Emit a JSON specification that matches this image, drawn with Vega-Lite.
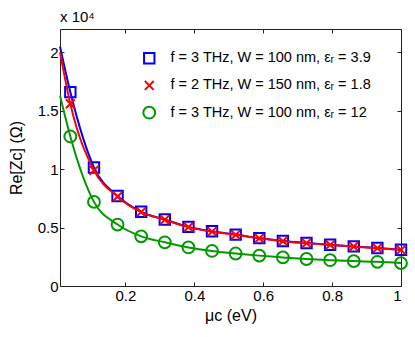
{
  "$schema": "https://vega.github.io/schema/vega-lite/v6.json",
  "width": 341,
  "height": 257,
  "autosize": {"type": "none"},
  "padding": {"left": 60, "top": 29, "right": 14, "bottom": 51},
  "background": "white",
  "config": {
    "font": "Liberation Sans",
    "view": {"stroke": "#222", "strokeWidth": 1},
    "axis": {
      "domain": false,
      "grid": false,
      "tickColor": "#222",
      "tickSize": -4,
      "labelFont": "Liberation Sans",
      "labelFontSize": 15,
      "labelColor": "#000",
      "titleFont": "Liberation Sans",
      "titleFontSize": 16,
      "titleFontWeight": "normal",
      "titleColor": "#000"
    },
    "legend": {
      "labelFont": "Liberation Sans",
      "labelFontSize": 14.5,
      "labelColor": "#000",
      "labelLimit": 400
    }
  },
  "title": {
    "text": "x 10⁴",
    "anchor": "start",
    "frame": "group",
    "fontSize": 15,
    "fontWeight": "normal",
    "font": "Liberation Sans",
    "color": "#000",
    "offset": 4
  },
  "data": {
    "values": [
      {"s": "f = 3 THz, W = 100 nm, εᵣ = 3.9", "mu": 0.01, "z": 20500, "m": false},
      {"s": "f = 3 THz, W = 100 nm, εᵣ = 3.9", "mu": 0.04, "z": 16600, "m": true},
      {"s": "f = 3 THz, W = 100 nm, εᵣ = 3.9", "mu": 0.1086, "z": 10150, "m": true},
      {"s": "f = 3 THz, W = 100 nm, εᵣ = 3.9", "mu": 0.1771, "z": 7700, "m": true},
      {"s": "f = 3 THz, W = 100 nm, εᵣ = 3.9", "mu": 0.2457, "z": 6350, "m": true},
      {"s": "f = 3 THz, W = 100 nm, εᵣ = 3.9", "mu": 0.3143, "z": 5690, "m": true},
      {"s": "f = 3 THz, W = 100 nm, εᵣ = 3.9", "mu": 0.3829, "z": 5060, "m": true},
      {"s": "f = 3 THz, W = 100 nm, εᵣ = 3.9", "mu": 0.4514, "z": 4680, "m": true},
      {"s": "f = 3 THz, W = 100 nm, εᵣ = 3.9", "mu": 0.52, "z": 4400, "m": true},
      {"s": "f = 3 THz, W = 100 nm, εᵣ = 3.9", "mu": 0.5886, "z": 4100, "m": true},
      {"s": "f = 3 THz, W = 100 nm, εᵣ = 3.9", "mu": 0.6571, "z": 3850, "m": true},
      {"s": "f = 3 THz, W = 100 nm, εᵣ = 3.9", "mu": 0.7257, "z": 3680, "m": true},
      {"s": "f = 3 THz, W = 100 nm, εᵣ = 3.9", "mu": 0.7943, "z": 3530, "m": true},
      {"s": "f = 3 THz, W = 100 nm, εᵣ = 3.9", "mu": 0.8629, "z": 3390, "m": true},
      {"s": "f = 3 THz, W = 100 nm, εᵣ = 3.9", "mu": 0.9314, "z": 3250, "m": true},
      {"s": "f = 3 THz, W = 100 nm, εᵣ = 3.9", "mu": 1.0, "z": 3100, "m": true},
      {"s": "f = 2 THz, W = 150 nm, εᵣ = 1.8", "mu": 0.01, "z": 20000, "m": false},
      {"s": "f = 2 THz, W = 150 nm, εᵣ = 1.8", "mu": 0.04, "z": 15600, "m": true},
      {"s": "f = 2 THz, W = 150 nm, εᵣ = 1.8", "mu": 0.1086, "z": 9900, "m": true},
      {"s": "f = 2 THz, W = 150 nm, εᵣ = 1.8", "mu": 0.1771, "z": 7650, "m": true},
      {"s": "f = 2 THz, W = 150 nm, εᵣ = 1.8", "mu": 0.2457, "z": 6330, "m": true},
      {"s": "f = 2 THz, W = 150 nm, εᵣ = 1.8", "mu": 0.3143, "z": 5670, "m": true},
      {"s": "f = 2 THz, W = 150 nm, εᵣ = 1.8", "mu": 0.3829, "z": 5040, "m": true},
      {"s": "f = 2 THz, W = 150 nm, εᵣ = 1.8", "mu": 0.4514, "z": 4660, "m": true},
      {"s": "f = 2 THz, W = 150 nm, εᵣ = 1.8", "mu": 0.52, "z": 4380, "m": true},
      {"s": "f = 2 THz, W = 150 nm, εᵣ = 1.8", "mu": 0.5886, "z": 4080, "m": true},
      {"s": "f = 2 THz, W = 150 nm, εᵣ = 1.8", "mu": 0.6571, "z": 3840, "m": true},
      {"s": "f = 2 THz, W = 150 nm, εᵣ = 1.8", "mu": 0.7257, "z": 3670, "m": true},
      {"s": "f = 2 THz, W = 150 nm, εᵣ = 1.8", "mu": 0.7943, "z": 3520, "m": true},
      {"s": "f = 2 THz, W = 150 nm, εᵣ = 1.8", "mu": 0.8629, "z": 3380, "m": true},
      {"s": "f = 2 THz, W = 150 nm, εᵣ = 1.8", "mu": 0.9314, "z": 3240, "m": true},
      {"s": "f = 2 THz, W = 150 nm, εᵣ = 1.8", "mu": 1.0, "z": 3090, "m": true},
      {"s": "f = 3 THz, W = 100 nm, εᵣ = 12", "mu": 0.01, "z": 16300, "m": false},
      {"s": "f = 3 THz, W = 100 nm, εᵣ = 12", "mu": 0.04, "z": 12800, "m": true},
      {"s": "f = 3 THz, W = 100 nm, εᵣ = 12", "mu": 0.1086, "z": 7200, "m": true},
      {"s": "f = 3 THz, W = 100 nm, εᵣ = 12", "mu": 0.1771, "z": 5260, "m": true},
      {"s": "f = 3 THz, W = 100 nm, εᵣ = 12", "mu": 0.2457, "z": 4250, "m": true},
      {"s": "f = 3 THz, W = 100 nm, εᵣ = 12", "mu": 0.3143, "z": 3740, "m": true},
      {"s": "f = 3 THz, W = 100 nm, εᵣ = 12", "mu": 0.3829, "z": 3300, "m": true},
      {"s": "f = 3 THz, W = 100 nm, εᵣ = 12", "mu": 0.4514, "z": 3000, "m": true},
      {"s": "f = 3 THz, W = 100 nm, εᵣ = 12", "mu": 0.52, "z": 2780, "m": true},
      {"s": "f = 3 THz, W = 100 nm, εᵣ = 12", "mu": 0.5886, "z": 2600, "m": true},
      {"s": "f = 3 THz, W = 100 nm, εᵣ = 12", "mu": 0.6571, "z": 2450, "m": true},
      {"s": "f = 3 THz, W = 100 nm, εᵣ = 12", "mu": 0.7257, "z": 2310, "m": true},
      {"s": "f = 3 THz, W = 100 nm, εᵣ = 12", "mu": 0.7943, "z": 2210, "m": true},
      {"s": "f = 3 THz, W = 100 nm, εᵣ = 12", "mu": 0.8629, "z": 2130, "m": true},
      {"s": "f = 3 THz, W = 100 nm, εᵣ = 12", "mu": 0.9314, "z": 2070, "m": true},
      {"s": "f = 3 THz, W = 100 nm, εᵣ = 12", "mu": 1.0, "z": 1960, "m": true}
    ]
  },
  "encoding": {
    "x": {"field": "mu", "type": "quantitative", "scale": {"domain": [0.01, 1], "nice": false, "zero": false}},
    "y": {"field": "z", "type": "quantitative", "scale": {"domain": [0, 22000], "nice": false}},
    "color": {
      "field": "s", "type": "nominal",
      "scale": {
        "domain": ["f = 3 THz, W = 100 nm, εᵣ = 3.9", "f = 2 THz, W = 150 nm, εᵣ = 1.8", "f = 3 THz, W = 100 nm, εᵣ = 12"],
        "range": ["#0000ff", "#ff0000", "#009900"]
      },
      "legend": {
        "title": null, "orient": "none", "legendX": 82, "legendY": 22,
        "padding": 0, "rowPadding": 8.2, "labelOffset": 14, "symbolStrokeWidth": 2, "symbolSize": 140,
        "labelLimit": 400
      }
    }
  },
  "resolve": {"axis": {"x": "independent", "y": "independent"}},
  "layer": [
    {
      "transform": [{"filter": "datum.s == 'f = 3 THz, W = 100 nm, εᵣ = 3.9'"}],
      "mark": {"type": "line", "strokeWidth": 2, "interpolate": "monotone"},
      "encoding": {
        "x": {"field": "mu", "type": "quantitative", "axis": {"orient": "bottom", "values": [0.2, 0.4, 0.6, 0.8, 1], "labelExpr": "format(datum.value, '~g')", "title": "μc (eV)", "labelPadding": 6, "titlePadding": 4}},
        "y": {"field": "z", "type": "quantitative", "axis": {"orient": "left", "values": [0, 5000, 10000, 15000, 20000], "labelExpr": "format(datum.value / 10000, '~g')", "title": "Re[Zc] (Ω)", "labelPadding": 6, "titlePadding": 13}}
      }
    },
    {
      "transform": [{"filter": "datum.s == 'f = 3 THz, W = 100 nm, εᵣ = 3.9' && datum.m"}],
      "mark": {"type": "point", "filled": false, "strokeWidth": 2, "size": 140, "opacity": 1},
      "encoding": {
        "x": {"field": "mu", "type": "quantitative", "axis": null},
        "y": {"field": "z", "type": "quantitative", "axis": null},
        "shape": {
          "field": "s", "type": "nominal",
          "scale": {
            "domain": ["f = 3 THz, W = 100 nm, εᵣ = 3.9", "f = 2 THz, W = 150 nm, εᵣ = 1.8", "f = 3 THz, W = 100 nm, εᵣ = 12"],
            "range": ["M-0.88,-0.88H0.88V0.88H-0.88Z", "M-0.75,-0.75L0.75,0.75M-0.75,0.75L0.75,-0.75", "circle"]
          },
          "legend": {"title": null}
        }
      }
    },
    {
      "transform": [{"filter": "datum.s == 'f = 2 THz, W = 150 nm, εᵣ = 1.8'"}],
      "mark": {"type": "line", "strokeWidth": 2, "interpolate": "monotone"},
      "encoding": {
        "x": {"field": "mu", "type": "quantitative", "axis": null},
        "y": {"field": "z", "type": "quantitative", "axis": null}
      }
    },
    {
      "transform": [{"filter": "datum.s == 'f = 2 THz, W = 150 nm, εᵣ = 1.8' && datum.m"}],
      "mark": {"type": "point", "filled": false, "strokeWidth": 2, "size": 140, "opacity": 1},
      "encoding": {
        "x": {"field": "mu", "type": "quantitative", "axis": null},
        "y": {"field": "z", "type": "quantitative", "axis": null},
        "shape": {"field": "s", "type": "nominal", "legend": {"title": null}}
      }
    },
    {
      "transform": [{"filter": "datum.s == 'f = 3 THz, W = 100 nm, εᵣ = 12'"}],
      "mark": {"type": "line", "strokeWidth": 2, "interpolate": "monotone"},
      "encoding": {
        "x": {"field": "mu", "type": "quantitative", "axis": null},
        "y": {"field": "z", "type": "quantitative", "axis": null}
      }
    },
    {
      "transform": [{"filter": "datum.s == 'f = 3 THz, W = 100 nm, εᵣ = 12' && datum.m"}],
      "mark": {"type": "point", "filled": false, "strokeWidth": 2, "size": 140, "opacity": 1},
      "encoding": {
        "x": {"field": "mu", "type": "quantitative", "axis": {"orient": "top", "values": [0.2, 0.4, 0.6, 0.8, 1], "labels": false, "title": null}},
        "y": {"field": "z", "type": "quantitative", "axis": {"orient": "right", "values": [0, 5000, 10000, 15000, 20000], "labels": false, "title": null}},
        "shape": {"field": "s", "type": "nominal", "legend": {"title": null}}
      }
    }
  ]
}
